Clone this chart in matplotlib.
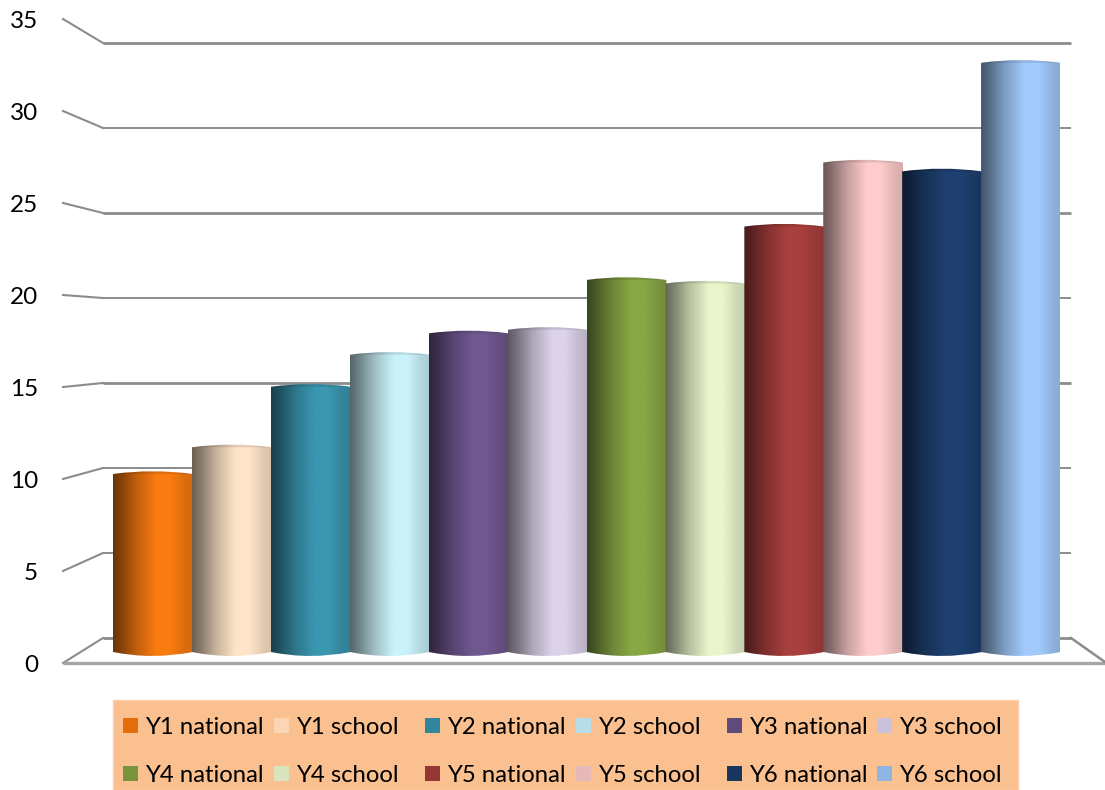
import numpy as np
import matplotlib
matplotlib.use("Agg")
import matplotlib.pyplot as plt
from matplotlib.colors import LinearSegmentedColormap, to_rgb
from matplotlib.patches import PathPatch, Rectangle
from matplotlib.path import Path

categories = ["Y1 national", "Y1 school", "Y2 national", "Y2 school", "Y3 national", "Y3 school",
              "Y4 national", "Y4 school", "Y5 national", "Y5 school", "Y6 national", "Y6 school"]
values = [10.0, 11.5, 14.9, 16.7, 17.9, 18.1, 20.9, 20.7, 23.9, 27.5, 27.0, 33.1]
legend_colors = ["#E46C0A", "#FCD5B5", "#31859C", "#B7DEE8", "#604A7B", "#CCC1DA",
                 "#77933C", "#D7E4BD", "#953735", "#E6B9B8", "#17375E", "#8EB4E3"]
peak_colors = ["#FA7C10", "#FFE4C8", "#3A97B0", "#CAF2FA", "#705890", "#DCD2EA",
               "#88A845", "#EAF5CC", "#AA403E", "#FFCCCC", "#1E4070", "#A2CBFC"]
yticks = [0, 5, 10, 15, 20, 25, 30, 35]

FW, FH = 1105, 790
plt.rcParams["font.family"] = ["Lato", "DejaVu Sans"]
fig = plt.figure(figsize=(FW / 100, FH / 100), dpi=100, facecolor="white")


def axes_px(x0, x1, ytop, ybottom, **kw):
    return fig.add_axes([x0 / FW, 1 - ybottom / FH, (x1 - x0) / FW, (ybottom - ytop) / FH], **kw)


# overlay in pixel coordinates: walls, floor and legend frame
bg = axes_px(0, FW, 0, FH, zorder=0)
bg.set_xlim(0, FW)
bg.set_ylim(FH, 0)
bg.axis("off")
GRID = "#8C8C8C"
for v in yticks:
    yb = 638 - 17 * v
    yf = 663 - 18.4 * v
    lw = 2.0 if v in (0, 15, 25, 35) else 1.4
    bg.plot([103, 1071], [yb, yb], color=GRID, lw=lw, solid_capstyle="butt")
    bg.plot([63, 103], [yf, yb], color=GRID, lw=1.5)
bg.plot([63, 1105], [663, 663], color="#A6A6A6", lw=2.4, solid_capstyle="butt")
bg.plot([1071, 1105], [638, 662], color=GRID, lw=1.8)

# value axis: real tick labels on the front plane
front = axes_px(63, 1071, 663 - 18.4 * 35, 663, zorder=1)
front.set_facecolor("none")
front.set_ylim(0, 35)
front.set_xticks([])
front.set_yticks(yticks)
front.tick_params(axis="y", length=0, pad=18, labelsize=17.5, labelcolor="#000000")
for s in front.spines.values():
    s.set_visible(False)

# columns (axis runs a little below zero so the rounded bases are not cut)
YMIN = -1
ax = axes_px(113, 1060, 652 - 17.8 * 35, 652 - 17.8 * YMIN, zorder=2)
ax.set_facecolor("none")
ax.axis("off")

stops_pos = [0, 0.12, 0.3, 0.55, 0.72, 0.9, 1]
stops_mul = [0.42, 0.55, 0.78, 1.0, 1.0, 0.88, 0.84]
CAP_TOP = 5.5 / 17.8      # control offset of the flat top cap, in value units
CAP_BOT = 8.0 / 17.8
OVERLAP = 0.012

for i, (v, peak) in enumerate(zip(values, peak_colors)):
    rgb = np.array(to_rgb(peak))
    cmap = LinearSegmentedColormap.from_list(
        f"c{i}", [(p, tuple(rgb * m)) for p, m in zip(stops_pos, stops_mul)])
    x0, x1 = i - 0.5, i + 0.5 + OVERLAP
    xm = i
    body = Path(
        [(x0, 0), (xm, -CAP_BOT), (x1, 0), (x1, v), (xm, v + CAP_TOP), (x0, v), (x0, 0)],
        [Path.MOVETO, Path.CURVE3, Path.CURVE3, Path.LINETO, Path.CURVE3, Path.CURVE3, Path.CLOSEPOLY])
    im = ax.imshow(np.linspace(0, 1, 256)[None, :], cmap=cmap, aspect="auto",
                   extent=(x0, x1, YMIN, v + 1), interpolation="bilinear",
                   zorder=3 + i * 0.01)
    clip = PathPatch(body, transform=ax.transData, facecolor="none", edgecolor="none")
    ax.add_patch(clip)
    im.set_clip_path(clip)
    cap = Path([(x0, v), (xm, v + CAP_TOP), (x1, v), (x0, v)],
               [Path.MOVETO, Path.CURVE3, Path.CURVE3, Path.CLOSEPOLY])
    ax.add_patch(PathPatch(cap, facecolor="black", alpha=0.10, edgecolor="none", zorder=3.5))
ax.set_xlim(-0.5, 11.5)
ax.set_ylim(YMIN, 35)

# legend
leg = axes_px(0, FW, 0, FH, zorder=4)
leg.set_xlim(0, FW)
leg.set_ylim(FH, 0)
leg.axis("off")
leg.set_facecolor("none")
leg.add_patch(Rectangle((113, 700), 905, 90, facecolor="#FBC090", edgecolor="#FCD0AC", lw=1))
swatch_x = [123, 274, 425, 576, 727, 877]
row_y = [725, 773]
for i, (name, col) in enumerate(zip(categories, legend_colors)):
    r, c = divmod(i, 6)
    sx, y = swatch_x[c], row_y[r]
    leg.add_patch(Rectangle((sx, y - 7.5), 15, 15, facecolor=col, edgecolor="none"))
    leg.text(sx + 22, y, name, fontsize=17.2, color="#000000", ha="left", va="center_baseline")

fig.savefig("out.png", dpi=100)
